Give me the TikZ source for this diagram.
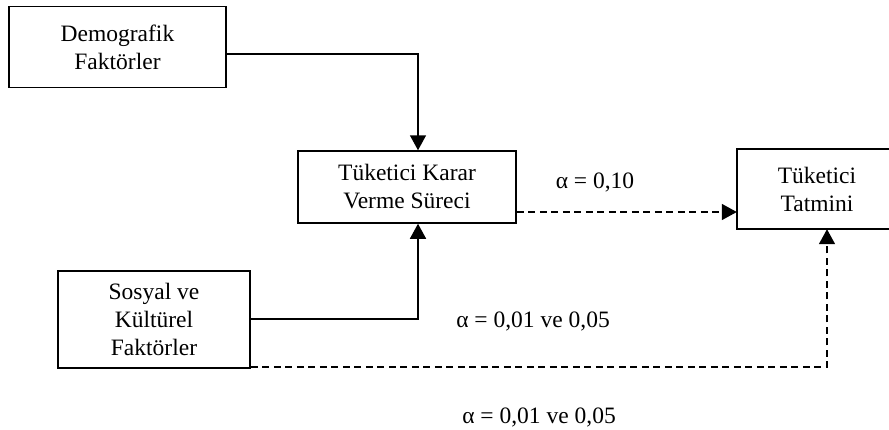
\documentclass[tikz,border=0pt]{standalone}
\usepackage{fontspec}
\setmainfont{Liberation Serif}
\usetikzlibrary{arrows.meta,calc}
\begin{document}
\begin{tikzpicture}[x=1pt,y=-1pt,
  boxtext/.style={align=center,inner sep=0pt,font=\fontsize{23.5}{28}\selectfont},
  box/.style={boxtext,draw,line width=1.5pt},
  lbl/.style={font=\fontsize{23.5}{28}\selectfont,inner sep=0pt},
  conn/.style={line width=1.5pt,-{Triangle[length=15pt,width=16pt]}},
  dconn/.style={line width=1.5pt,dash pattern=on 7pt off 4.5pt,-{Triangle[length=15pt,width=16pt]}}]
\useasboundingbox (0,0) rectangle (889,429);
\node[box,minimum width=217pt,minimum height=81pt] (demo) at (117.5,47) {Demografik\\Faktörler};
\node[box,minimum width=218pt,minimum height=72pt] (karar) at (407,187) {Tüketici Karar\\Verme Süreci};
\node[boxtext,minimum width=160pt,minimum height=80pt] (tatmin) at (817,189) {Tüketici\\Tatmini};
\coordinate (redge) at (889,0);
\draw[line width=1.5pt] (tatmin.north -| redge) -- (tatmin.north west) -- (tatmin.south west) -- (tatmin.south -| redge);
\node[box,minimum width=192pt,minimum height=97pt] (sosyal) at (154,319.5) {Sosyal ve\\Kültürel\\Faktörler};
\coordinate (colA) at (418,0);
\coordinate (colB) at (827,0);
\coordinate (rowA) at (0,54);
\coordinate (rowB) at (0,319);
\coordinate (rowC) at (0,212);
\coordinate (rowD) at (0,367);
\draw[conn] (demo.east |- rowA) -| (karar.north -| colA);
\draw[conn] (sosyal.east |- rowB) -| (karar.south -| colA);
\draw[dconn] (karar.east |- rowC) -- (tatmin.west |- rowC);
\draw[dconn] (sosyal.east |- rowD) -| (tatmin.south -| colB);
\node[lbl,anchor=base] (l1) at (595,188) {α = 0,10};
\node[lbl,anchor=base] (l2) at (533,327) {α = 0,01 ve 0,05};
\node[lbl,anchor=base] (l3) at (539,423) {α = 0,01 ve 0,05};
\end{tikzpicture}
\end{document}
